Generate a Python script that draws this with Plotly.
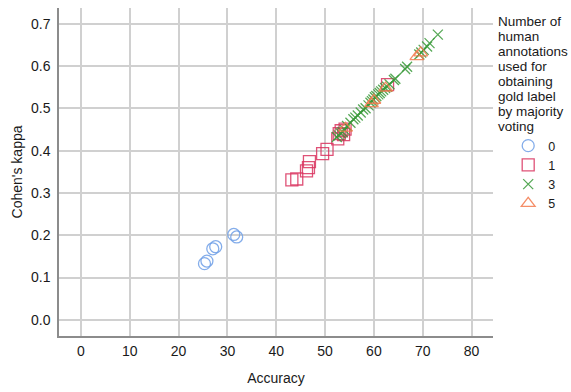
import plotly.graph_objects as go

# Group 0
acc_0 = [25.3, 25.8, 27.0, 27.6, 31.3, 31.9]
kap_0 = [0.133, 0.139, 0.168, 0.173, 0.202, 0.196]
# Group 1
acc_1 = [43.2, 44.2, 46.2, 46.6, 46.8, 49.5, 50.4, 52.6, 52.9, 53.3, 53.8, 54.1, 62.8]
kap_1 = [0.331, 0.333, 0.352, 0.360, 0.374, 0.393, 0.403, 0.428, 0.440, 0.447, 0.438, 0.451, 0.556]
# Group 3
acc_3 = [52.4, 52.8, 53.2, 53.6, 54.0, 54.5, 55.2, 55.8, 56.2, 56.7, 57.3, 57.8, 58.3, 58.9,
         59.3, 59.6, 59.9, 60.2, 60.5, 60.9, 61.2, 61.5, 61.9, 62.3, 62.7, 63.2, 64.1, 64.4,
         66.4, 66.8, 69.3, 69.7, 70.2, 70.9, 71.4, 73.1]
kap_3 = [0.432, 0.436, 0.441, 0.444, 0.449, 0.458, 0.466, 0.474, 0.478, 0.483, 0.490, 0.497,
         0.500, 0.507, 0.513, 0.517, 0.521, 0.526, 0.529, 0.533, 0.536, 0.540, 0.544, 0.548,
         0.551, 0.557, 0.567, 0.570, 0.593, 0.598, 0.627, 0.632, 0.638, 0.646, 0.654, 0.674]
# Group 5
acc_5 = [54.2, 59.5, 60.0, 62.4, 68.8, 69.6]
kap_5 = [0.453, 0.511, 0.519, 0.548, 0.622, 0.631]

x_ticks = [0, 10, 20, 30, 40, 50, 60, 70, 80]
y_ticks = [0.0, 0.1, 0.2, 0.3, 0.4, 0.5, 0.6, 0.7]

legend_title_lines = ["Number of", "human", "annotations", "used for", "obtaining",
                      "gold label", "by majority", "voting"]

groups = [
    ("0", acc_0, kap_0, "circle-open", "#6E9FE6", 12),
    ("1", acc_1, kap_1, "square-open", "#D9345F", 12),
    ("3", acc_3, kap_3, "x-thin-open", "#3A9A3A", 10),
    ("5", acc_5, kap_5, "triangle-up-open", "#F37A4E", 12),
]

fig = go.Figure()
for name, xs, ys, sym, col, sz in groups:
    fig.add_trace(go.Scatter(
        x=xs, y=ys, mode="markers", name=name,
        marker=dict(symbol=sym, size=sz, color=col, opacity=0.85,
                    line=dict(color=col, width=1.3)),
    ))

PLOT_H = 392 - 8 - 56
LINE_PX = 15
annotations = []
for i, line in enumerate(legend_title_lines):
    annotations.append(dict(
        text=line, xref="paper", yref="paper",
        x=1.007, y=1.0 - (4 + i * LINE_PX) / PLOT_H,
        xanchor="left", yanchor="top", align="left", showarrow=False,
        font=dict(size=13.5, color="#1a1a1a")))

font = "Liberation Sans, Arial, sans-serif"
fig.update_layout(
    width=571, height=392,
    margin=dict(l=59, r=78, t=8, b=56),
    paper_bgcolor="white", plot_bgcolor="white",
    font=dict(family=font, size=14, color="#1a1a1a"),
    showlegend=True,
    legend=dict(x=1.035, y=0.625, xanchor="left", yanchor="top",
                font=dict(size=12.5, color="#1a1a1a"),
                tracegroupgap=0, itemwidth=30,
                bgcolor="rgba(0,0,0,0)"),
    xaxis=dict(range=[-4.5, 84.4], tickvals=x_ticks, ticktext=[str(v) for v in x_ticks],
               showgrid=True, gridcolor="#d0d0d0", gridwidth=1.5,
               showline=True, linecolor="#8c8c8c", linewidth=1.5,
               zeroline=False, ticks="", ticklabelstandoff=1,
               tickfont=dict(size=14),
               title=dict(text="Accuracy", standoff=16, font=dict(size=14))),
    yaxis=dict(range=[-0.038, 0.737], tickvals=y_ticks, ticktext=[f"{v:.1f}" for v in y_ticks],
               showgrid=True, gridcolor="#d0d0d0", gridwidth=1.5,
               showline=True, linecolor="#8c8c8c", linewidth=1.5,
               zeroline=False, ticks="", ticklabelstandoff=4,
               tickfont=dict(size=14),
               title=dict(text="Cohen's kappa", standoff=5, font=dict(size=14))),
    annotations=annotations,
)

fig.write_html("out.html")
